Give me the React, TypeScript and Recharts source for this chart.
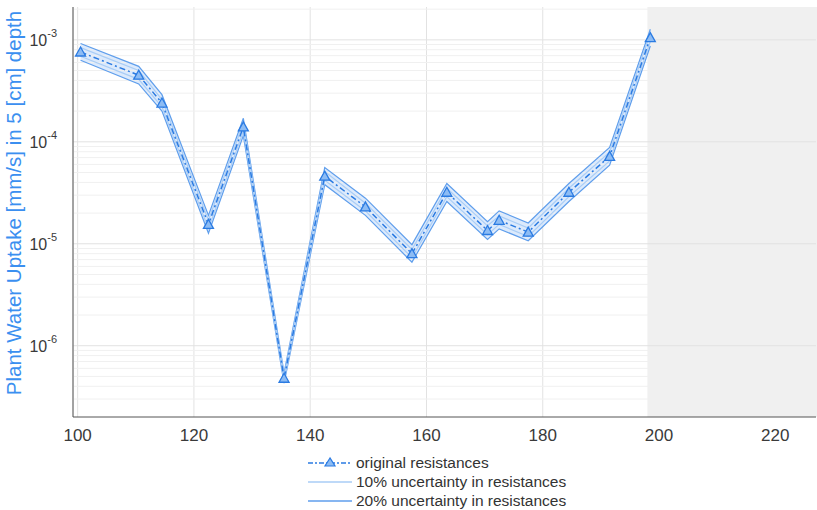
import React from 'react'
import {
    ComposedChart,
    Line,
    Area,
    XAxis,
    YAxis,
    CartesianGrid,
    ReferenceArea,
    ReferenceLine,
} from 'recharts'

// depth positions along the x axis
const positions = [100.5, 110.5, 114.5, 122.5, 128.5, 135.5, 142.5, 149.5, 157.5, 163.5, 170.5, 172.5, 177.5, 184.5, 191.5, 198.5]

// original resistances
const original = [7.6e-4, 4.5e-4, 2.4e-4, 1.55e-5, 1.4e-4, 4.8e-7, 4.6e-5, 2.3e-5, 8.0e-6, 3.2e-5, 1.35e-5, 1.7e-5, 1.3e-5, 3.2e-5, 7.2e-5, 1.05e-3]

// 10% uncertainty bounds
const upper10 = [8.4e-4, 5.0e-4, 2.6e-4, 1.7e-5, 1.54e-4, 5.1e-7, 5.1e-5, 2.5e-5, 8.8e-6, 3.5e-5, 1.5e-5, 1.87e-5, 1.43e-5, 3.5e-5, 7.9e-5, 1.16e-3]
const lower10 = [6.9e-4, 4.1e-4, 2.2e-4, 1.4e-5, 1.27e-4, 4.5e-7, 4.2e-5, 2.1e-5, 7.3e-6, 2.9e-5, 1.23e-5, 1.55e-5, 1.18e-5, 2.9e-5, 6.5e-5, 9.6e-4]

// 20% uncertainty bounds
const upper20 = [9.2e-4, 5.5e-4, 2.9e-4, 1.9e-5, 1.7e-4, 5.4e-7, 5.6e-5, 2.8e-5, 9.8e-6, 3.9e-5, 1.65e-5, 2.1e-5, 1.6e-5, 3.9e-5, 8.8e-5, 1.27e-3]
const lower20 = [6.3e-4, 3.7e-4, 2.0e-4, 1.27e-5, 1.15e-4, 4.3e-7, 3.8e-5, 1.9e-5, 6.6e-6, 2.6e-5, 1.1e-5, 1.4e-5, 1.07e-5, 2.6e-5, 5.9e-5, 8.7e-4]

const xTicks = [100, 120, 140, 160, 180, 200, 220]
const yMajor = [1e-6, 1e-5, 1e-4, 1e-3]
const yMajorExp = ['-6', '-5', '-4', '-3']
const yMinor = [
    3e-7, 4e-7, 5e-7, 6e-7, 7e-7, 8e-7, 9e-7,
    2e-6, 3e-6, 4e-6, 5e-6, 6e-6, 7e-6, 8e-6, 9e-6,
    2e-5, 3e-5, 4e-5, 5e-5, 6e-5, 7e-5, 8e-5, 9e-5,
    2e-4, 3e-4, 4e-4, 5e-4, 6e-4, 7e-4, 8e-4, 9e-4,
    2e-3,
]

const shadedFrom = 198

const legendLabels = ['original resistances', '10% uncertainty in resistances', '20% uncertainty in resistances']

const FONT = '"Liberation Sans", Arial, sans-serif'
const MAIN = '#2b7be2'
const C10 = '#a9cdf6'
const C20 = '#5f9eec'
const BAND = '#d3e5fb'

const data = positions.map((x, i) => ({
    x,
    orig: original[i],
    hi10: upper10[i],
    lo10: lower10[i],
    hi20: upper20[i],
    lo20: lower20[i],
    band: [lower20[i], upper20[i]],
}))

const YTick = (props: any) => {
    const { x, y, payload } = props
    const idx = yMajor.indexOf(payload.value)
    if (idx < 0) return null
    return (
        <text x={x - 8} y={y} fontFamily={FONT} fill="#3a3a3a" textAnchor="end">
            <tspan fontSize={16} dy={6}>10</tspan>
            <tspan fontSize={11} dy={-9}>{yMajorExp[idx]}</tspan>
        </text>
    )
}

const Triangle = (props: any) => {
    const { cx, cy } = props
    if (cx == null || cy == null) return null
    return (
        <polygon
            points={`${cx},${cy - 5} ${cx - 5},${cy + 4} ${cx + 5},${cy + 4}`}
            fill="#8dbcf4"
            stroke={MAIN}
            strokeWidth={1.3}
        />
    )
}

const YLabel = () => (
    <text
        x={21}
        y={203}
        transform="rotate(-90 21 203)"
        textAnchor="middle"
        fontFamily={FONT}
        fontSize={20.5}
        fill="#3b8ff0"
    >
        Plant Water Uptake [mm/s] in 5 [cm] depth
    </text>
)

export default function App() {
    return (
        <div style={{ position: 'absolute', left: 0, top: 0, width: 817, height: 510, background: '#fff' }}>
            <ComposedChart
                width={817}
                height={510}
                data={data}
                margin={{ top: 7, right: 1, left: 0, bottom: 63 }}
            >
                <ReferenceArea x1={shadedFrom} x2={227} fill="#f0f0f0" fillOpacity={1} stroke="none" />
                <CartesianGrid horizontal={false} stroke="#e2e2e2" />
                {yMinor.map((v) => (
                    <ReferenceLine key={'m' + v} y={v} stroke="#f0f0f0" strokeWidth={1} />
                ))}
                {yMajor.map((v) => (
                    <ReferenceLine key={'M' + v} y={v} stroke="#e2e2e2" strokeWidth={1} />
                ))}
                <XAxis
                    dataKey="x"
                    type="number"
                    domain={[99.2, 227]}
                    ticks={xTicks}
                    allowDataOverflow
                    height={30}
                    stroke="#555"
                    tickLine={false}
                    tick={{ fontSize: 17, fill: '#3a3a3a', fontFamily: FONT, dy: 4 }}
                />
                <XAxis xAxisId="top" dataKey="x" type="number" orientation="top" domain={[99.2, 227]} height={0} tick={false} tickLine={false} stroke="#c8c8c8" />
                <YAxis
                    scale="log"
                    domain={[2e-7, 2.1e-3]}
                    ticks={[...yMajor, ...yMinor]}
                    interval={0}
                    allowDataOverflow
                    width={73}
                    stroke="#555"
                    tickLine={false}
                    tick={<YTick />}
                    label={{ content: <YLabel /> }}
                />
                <Area
                    dataKey="band"
                    stroke="none"
                    fill={BAND}
                    fillOpacity={0.8}
                    isAnimationActive={false}
                />
                <Line dataKey="hi20" stroke={C20} strokeWidth={1.2} dot={false} isAnimationActive={false} />
                <Line dataKey="lo20" stroke={C20} strokeWidth={1.2} dot={false} isAnimationActive={false} />
                <Line dataKey="hi10" stroke={C10} strokeWidth={1.2} dot={false} isAnimationActive={false} />
                <Line dataKey="lo10" stroke={C10} strokeWidth={1.2} dot={false} isAnimationActive={false} />
                <Line
                    dataKey="orig"
                    stroke={MAIN}
                    strokeWidth={1.5}
                    strokeDasharray="6 3 2 3"
                    dot={<Triangle />}
                    isAnimationActive={false}
                />
            </ComposedChart>
            <div
                style={{
                    position: 'absolute',
                    left: 306,
                    top: 453,
                    fontFamily: FONT,
                    fontSize: 15.5,
                    color: '#333',
                    lineHeight: '19px',
                }}
            >
                {legendLabels.map((label, i) => (
                    <div key={label} style={{ display: 'flex', alignItems: 'center', height: 19 }}>
                        <svg width={48} height={19}>
                            <line
                                x1={2}
                                x2={46}
                                y1={10}
                                y2={10}
                                stroke={i === 0 ? MAIN : i === 1 ? C10 : C20}
                                strokeWidth={1.3}
                                strokeDasharray={i === 0 ? '5 2 2 2' : undefined}
                            />
                            {i === 0 && <polygon points="24,5 19,13 29,13" fill="#8dbcf4" stroke={MAIN} strokeWidth={1.2} />}
                        </svg>
                        <span style={{ marginLeft: 2 }}>{label}</span>
                    </div>
                ))}
            </div>
        </div>
    )
}
